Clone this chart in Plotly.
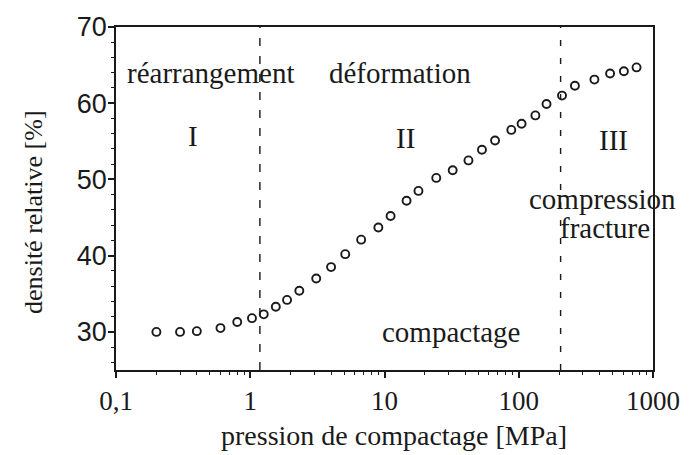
import math
import plotly.graph_objects as go

# Compaction curve: relative density vs. compaction pressure
pression = [0.2, 0.3, 0.4, 0.6, 0.8, 1.03, 1.26, 1.55, 1.88, 2.32, 3.1, 4.0,
            5.1, 6.7, 9.0, 11.1, 14.6, 17.9, 24.3, 32.2, 42.2, 53.2, 66.6, 88,
            105, 133, 161, 210, 262, 366, 479, 607, 754]
densite = [30.0, 30.0, 30.1, 30.5, 31.3, 31.8, 32.3, 33.3, 34.2, 35.4, 37.0, 38.5,
           40.2, 42.1, 43.7, 45.2, 47.2, 48.5, 50.2, 51.2, 52.5, 53.9, 55.1, 56.5,
           57.3, 58.4, 59.9, 61.0, 62.3, 63.1, 63.9, 64.2, 64.7]

# Boundaries between the three stages (MPa) and their dash patterns
limites = [1.18, 205]
tirets = ["8px,10px", "6px,12px"]

x_ticks = [0.1, 1, 10, 100, 1000]
x_ticktext = ["0,1", "1", "10", "100", "1000"]
y_ticks = [30, 40, 50, 60, 70]

# Text labels: (text, pressure MPa, density %, x anchor)
etiquettes = [
    ("réarrangement", 0.116, 64.0, "left"),
    ("déformation", 13.0, 64.0, "center"),
    ("I", 0.375, 55.7, "center"),
    ("II", 14.4, 55.4, "center"),
    ("III", 505, 55.2, "center"),
    ("compression", 420, 47.4, "center"),
    ("fracture", 440, 43.6, "center"),
    ("compactage", 31.5, 30.0, "center"),
]

ink = "#1a1a1a"
serif = "Liberation Serif"

fig = go.Figure()

for b, d in zip(limites, tirets):
    fig.add_trace(go.Scatter(
        x=[b, b], y=[25, 70], mode="lines",
        line=dict(color=ink, width=1.4, dash=d),
        hoverinfo="skip", showlegend=False,
    ))

fig.add_trace(go.Scatter(
    x=pression, y=densite, mode="markers",
    marker=dict(symbol="circle-open", size=8, color=ink, line=dict(width=1.9, color=ink)),
    showlegend=False,
))

for txt, xv, yv, anc in etiquettes:
    fig.add_annotation(
        x=math.log10(xv), y=yv, xref="x", yref="y", text=txt,
        showarrow=False, xanchor=anc, yanchor="middle",
        font=dict(family=serif, size=29, color=ink),
    )

# Axis titles
fig.add_annotation(
    x=0.518, y=-0.242, xref="paper", yref="paper",
    text="pression de compactage [MPa]", showarrow=False,
    xanchor="center", yanchor="bottom",
    font=dict(family=serif, size=28, color=ink),
)
fig.add_annotation(
    x=-0.155, y=0.46, xref="paper", yref="paper",
    text="densité relative [%]", showarrow=False, textangle=-90,
    xanchor="center", yanchor="middle",
    font=dict(family=serif, size=26, color=ink),
)

minor_x = [m * 10 ** e for e in range(-1, 3) for m in range(2, 10)]

fig.update_xaxes(
    type="log", range=[-1, 3],
    tickvals=x_ticks, ticktext=x_ticktext,
    ticks="outside", ticklen=6, tickwidth=1.5, tickcolor=ink,
    minor=dict(tickvals=minor_x, ticks="outside", ticklen=3, tickwidth=1.2, tickcolor=ink),
    showline=True, linecolor=ink, linewidth=1.6, mirror=True,
    showgrid=False, zeroline=False,
    tickfont=dict(family=serif, size=27, color=ink),
)
fig.update_yaxes(
    range=[25, 70], tickvals=y_ticks,
    ticks="outside", ticklen=6, tickwidth=1.5, tickcolor=ink,
    minor=dict(dtick=2, tick0=0, ticks="outside", ticklen=3, tickwidth=1.2, tickcolor=ink),
    showline=True, linecolor=ink, linewidth=1.6, mirror=True,
    showgrid=False, zeroline=False, ticklabelstandoff=-4,
    tickfont=dict(family="Liberation Sans", size=27, color=ink),
)

fig.update_layout(
    width=692, height=455,
    margin=dict(l=116, r=32, t=25, b=85),
    paper_bgcolor="white", plot_bgcolor="white",
)

fig.write_html("out.html")
